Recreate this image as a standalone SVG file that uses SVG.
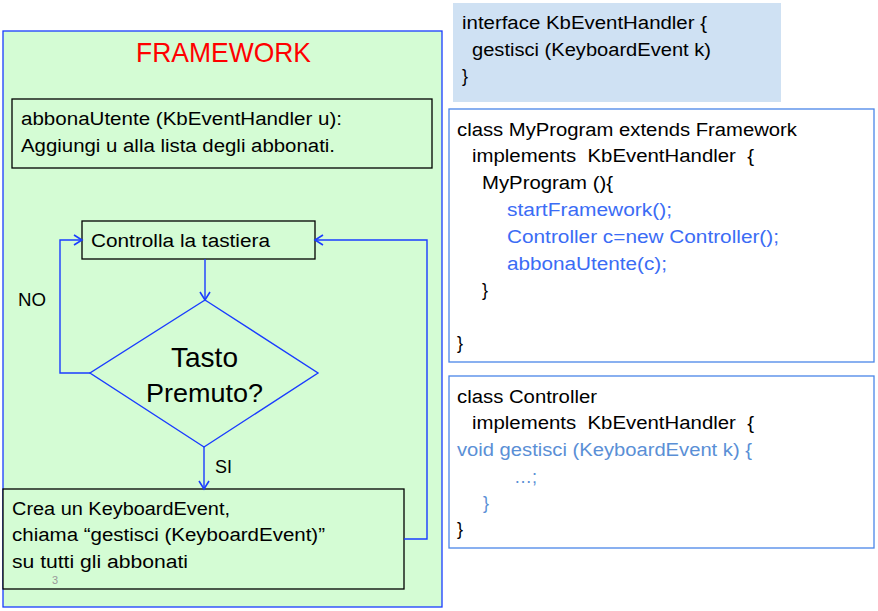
<svg xmlns="http://www.w3.org/2000/svg" width="878" height="611" viewBox="0 0 878 611">
<style>
text{font-family:"Liberation Sans",Arial,sans-serif;font-size:18px;fill:#000}
.box{fill:#d4fcd4;stroke:#000;stroke-width:1.3}
.conn{fill:none;stroke:#1a3cff;stroke-width:1.4}
.code{stroke:#4a86e8;stroke-width:1.3;fill:#fff}
.b1{fill:#3b6cf5}
.b2{fill:#5a8fd6}
</style>
<defs>
<marker id="arr" markerWidth="12" markerHeight="12" refX="10" refY="6" orient="auto" markerUnits="userSpaceOnUse">
<path d="M2,1 L10,6 L2,11" fill="none" stroke="#1a3cff" stroke-width="1.6"/>
</marker>
</defs>
<rect width="878" height="611" fill="#fff"/>
<g id="framework">
<rect x="3" y="31" width="439" height="576" fill="#d4fcd4" stroke="#1a3cff" stroke-width="1.3"/>
<text x="136" y="62" style="font-size:28px;fill:#ff0000" textLength="175" lengthAdjust="spacingAndGlyphs">FRAMEWORK</text>
</g>
<g id="abbona">
<rect class="box" x="12" y="99" width="420" height="69"/>
<text x="21" y="125" textLength="321" lengthAdjust="spacingAndGlyphs">abbonaUtente (KbEventHandler u):</text>
<text x="21" y="152" textLength="314" lengthAdjust="spacingAndGlyphs">Aggiungi u alla lista degli abbonati.</text>
</g>
<g id="controlla">
<rect class="box" x="82" y="221" width="233" height="38"/>
<text x="91" y="247" textLength="179" lengthAdjust="spacingAndGlyphs">Controlla la tastiera</text>
</g>
<g id="tasto">
<polygon points="205,300 318,373 204,447 90,373" fill="#d4fcd4" stroke="#1a3cff" stroke-width="1.4"/>
<text x="171" y="367" style="font-size:28px" textLength="67" lengthAdjust="spacingAndGlyphs">Tasto</text>
<text x="146" y="402" style="font-size:25px" textLength="117" lengthAdjust="spacingAndGlyphs">Premuto?</text>
</g>
<g id="crea">
<rect class="box" x="3" y="489" width="401" height="100"/>
<text x="12" y="515" textLength="218" lengthAdjust="spacingAndGlyphs">Crea un KeyboardEvent,</text>
<text x="12" y="541" textLength="313" lengthAdjust="spacingAndGlyphs">chiama “gestisci (KeyboardEvent)”</text>
<text x="12" y="568" textLength="176" lengthAdjust="spacingAndGlyphs">su tutti gli abbonati</text>
</g>
<text x="52" y="584" style="font-size:11px;fill:#999">3</text>
<g id="connectors">
<path class="conn" d="M205,259 L205,300" marker-end="url(#arr)"/>
<path class="conn" d="M90,373 L60,373 L60,240 L82,240" marker-end="url(#arr)"/>
<path class="conn" d="M204,447 L204,489" marker-end="url(#arr)"/>
<path class="conn" d="M404,539 L427,539 L427,240 L315,240" marker-end="url(#arr)"/>
<text x="18" y="306" textLength="28" lengthAdjust="spacingAndGlyphs">NO</text>
<text x="215" y="473" textLength="17" lengthAdjust="spacingAndGlyphs">SI</text>
</g>
<g id="interface">
<rect x="453" y="3" width="328" height="99" fill="#cfe1f3"/>
<text x="462" y="29" textLength="245" lengthAdjust="spacingAndGlyphs">interface KbEventHandler {</text>
<text x="472" y="56" textLength="239" lengthAdjust="spacingAndGlyphs">gestisci (KeyboardEvent k)</text>
<text x="462" y="82">}</text>
</g>
<g id="myprogram">
<rect class="code" x="449" y="109" width="425" height="253"/>
<text x="457" y="136" textLength="340" lengthAdjust="spacingAndGlyphs">class MyProgram extends Framework</text>
<text x="472" y="162" textLength="282" lengthAdjust="spacingAndGlyphs" xml:space="preserve">implements  KbEventHandler  {</text>
<text x="482" y="189" textLength="131" lengthAdjust="spacingAndGlyphs">MyProgram (){</text>
<text class="b1" x="507" y="216" textLength="165" lengthAdjust="spacingAndGlyphs">startFramework();</text>
<text class="b1" x="507" y="243" textLength="272" lengthAdjust="spacingAndGlyphs">Controller c=new Controller();</text>
<text class="b1" x="507" y="270" textLength="160" lengthAdjust="spacingAndGlyphs">abbonaUtente(c);</text>
<text x="482" y="296">}</text>
<text x="457" y="349">}</text>
</g>
<g id="controller">
<rect class="code" x="449" y="376" width="425" height="172"/>
<text x="457" y="403" textLength="140" lengthAdjust="spacingAndGlyphs">class Controller</text>
<text x="472" y="429" textLength="282" lengthAdjust="spacingAndGlyphs" xml:space="preserve">implements  KbEventHandler  {</text>
<text class="b2" x="457" y="456" textLength="295" lengthAdjust="spacingAndGlyphs">void gestisci (KeyboardEvent k) {</text>
<text class="b2" x="514" y="483">…;</text>
<text class="b2" x="483" y="509">}</text>
<text x="457" y="535">}</text>
</g>
</svg>
